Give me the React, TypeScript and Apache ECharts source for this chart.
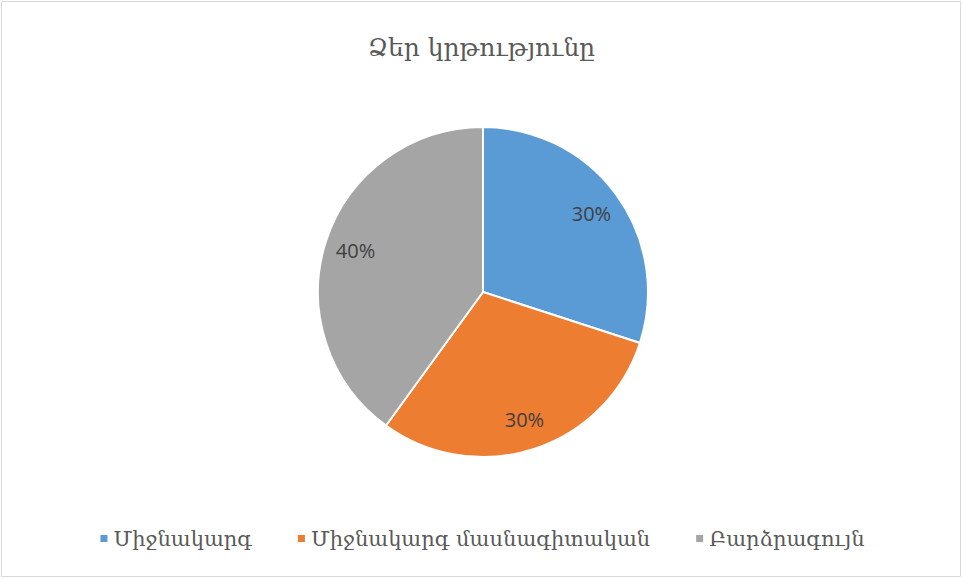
import React, { useEffect, useRef } from "react";
import * as echarts from "echarts";

const titleText = "Ձեր կրթությունը";
const categories = ["Միջնակարգ", "Միջնակարգ մասնագիտական", "Բարձրագույն"];
const values = [30, 30, 40];
const colors = ["#5b9bd5", "#ed7d31", "#a5a5a5"];

const FONT = "'DejaVu Serif', 'DejaVu Sans', serif";

export default function App() {
  const ref = useRef<HTMLDivElement>(null);
  useEffect(() => {
    document.body.style.margin = "0";
    const chart = echarts.init(ref.current!, null, { renderer: "svg" });
    const data = categories.map((name, i) => ({ name, value: values[i], itemStyle: { color: colors[i] } }));
    chart.setOption({
      animation: false,
      backgroundColor: "#ffffff",
      title: {
        text: titleText,
        left: "center",
        top: 30,
        textStyle: { fontFamily: FONT, fontSize: 25, fontWeight: "normal", color: "#595959" },
      },
      legend: {
        bottom: 25,
        left: "center",
        icon: "rect",
        itemWidth: 9,
        itemHeight: 9,
        itemGap: 44,
        textStyle: { fontFamily: FONT, fontSize: 21, color: "#595959" },
        data: categories,
      },
      graphic: [
        {
          type: "rect",
          shape: { x: 1.5, y: 1.5, width: 959, height: 575 },
          style: { fill: "none", stroke: "#d9d9d9", lineWidth: 1 },
          silent: true,
        },
      ],
      series: [
        {
          type: "pie",
          center: [483, 292],
          radius: [0, 165],
          startAngle: 90,
          clockwise: true,
          data,
          label: { show: false },
          labelLine: { show: false },
          itemStyle: { borderColor: "#ffffff", borderWidth: 2 },
          emphasis: { disabled: true },
        },
        {
          type: "pie",
          center: [483, 292],
          radius: [97, 165],
          startAngle: 90,
          clockwise: true,
          silent: true,
          data: categories.map((name, i) => ({ name, value: values[i] })),
          itemStyle: { color: "rgba(0,0,0,0)" },
          label: {
            show: true,
            position: "inside",
            formatter: (p: any) => Math.round(p.percent) + "%",
            fontFamily: "'Open Sans', 'Liberation Sans', Arial, sans-serif",
            fontSize: 20,
            color: "#404040",
          },
          labelLine: { show: false },
          emphasis: { disabled: true },
        },
      ],
    });
    return () => chart.dispose();
  }, []);
  return <div ref={ref} style={{ position: "fixed", left: 0, top: 0, width: 963, height: 579 }} />;
}
